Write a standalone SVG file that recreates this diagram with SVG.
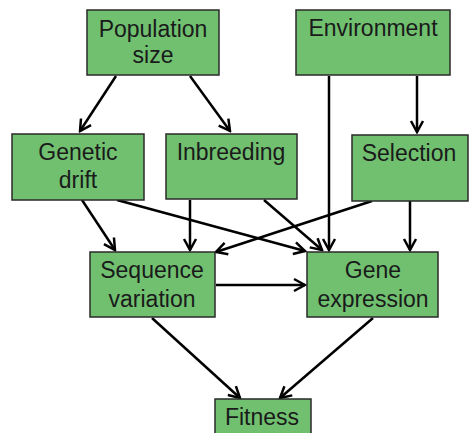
<svg xmlns="http://www.w3.org/2000/svg" width="470" height="433" viewBox="0 0 470 433">
<style>
.box{fill:#70c070;stroke:#2a2a2a;stroke-width:1.5}
.t{font-family:"Liberation Sans",Arial,sans-serif;font-size:23px;fill:#1a1a1a;text-anchor:middle}
.c{stroke:#000;stroke-width:2.5;fill:none;marker-end:url(#ah)}
</style>
<defs>
<marker id="ah" markerUnits="userSpaceOnUse" markerWidth="16" markerHeight="16" viewBox="-14 -8 16 16" refX="0" refY="0" orient="auto">
<path d="M-11,-6 L0,0 L-11,6" fill="none" stroke="#000" stroke-width="2.5"/>
</marker>
</defs>
<rect width="470" height="433" fill="#fff"/>
<g id="connectors">
<line class="c" x1="116" y1="76" x2="80" y2="131"/>
<line class="c" x1="190" y1="76" x2="230" y2="131"/>
<line class="c" x1="329" y1="76" x2="329" y2="250"/>
<line class="c" x1="417" y1="76" x2="417" y2="132"/>
<line class="c" x1="82" y1="200" x2="115" y2="250"/>
<line class="c" x1="117" y1="200" x2="305" y2="251"/>
<line class="c" x1="190" y1="200" x2="190" y2="250"/>
<line class="c" x1="264" y1="200" x2="322" y2="250"/>
<line class="c" x1="372" y1="201" x2="216" y2="252"/>
<line class="c" x1="410" y1="201" x2="410" y2="250"/>
<line class="c" x1="216" y1="285" x2="305" y2="285"/>
<line class="c" x1="152" y1="318" x2="240" y2="398"/>
<line class="c" x1="373" y1="318" x2="280" y2="398"/>
</g>
<g id="population-size"><rect class="box" x="87" y="10" width="132" height="65"/><text class="t" x="153" y="37">Population</text><text class="t" x="153" y="63">size</text></g>
<g id="environment"><rect class="box" x="296" y="10" width="154" height="65"/><text class="t" x="373" y="36">Environment</text></g>
<g id="genetic-drift"><rect class="box" x="12" y="134" width="132" height="66"/><text class="t" x="78" y="160">Genetic</text><text class="t" x="78" y="188">drift</text></g>
<g id="inbreeding"><rect class="box" x="166" y="134" width="131" height="65"/><text class="t" x="231" y="160">Inbreeding</text></g>
<g id="selection"><rect class="box" x="352" y="135" width="116" height="66"/><text class="t" x="409" y="161">Selection</text></g>
<g id="sequence-variation"><rect class="box" x="90" y="252" width="125" height="65"/><text class="t" x="152" y="278">Sequence</text><text class="t" x="152" y="307">variation</text></g>
<g id="gene-expression"><rect class="box" x="307" y="252" width="131" height="65"/><text class="t" x="373" y="278">Gene</text><text class="t" x="373" y="307">expression</text></g>
<g id="fitness"><rect class="box" x="215" y="399" width="96" height="40"/><text class="t" x="262" y="425">Fitness</text></g>
</svg>
